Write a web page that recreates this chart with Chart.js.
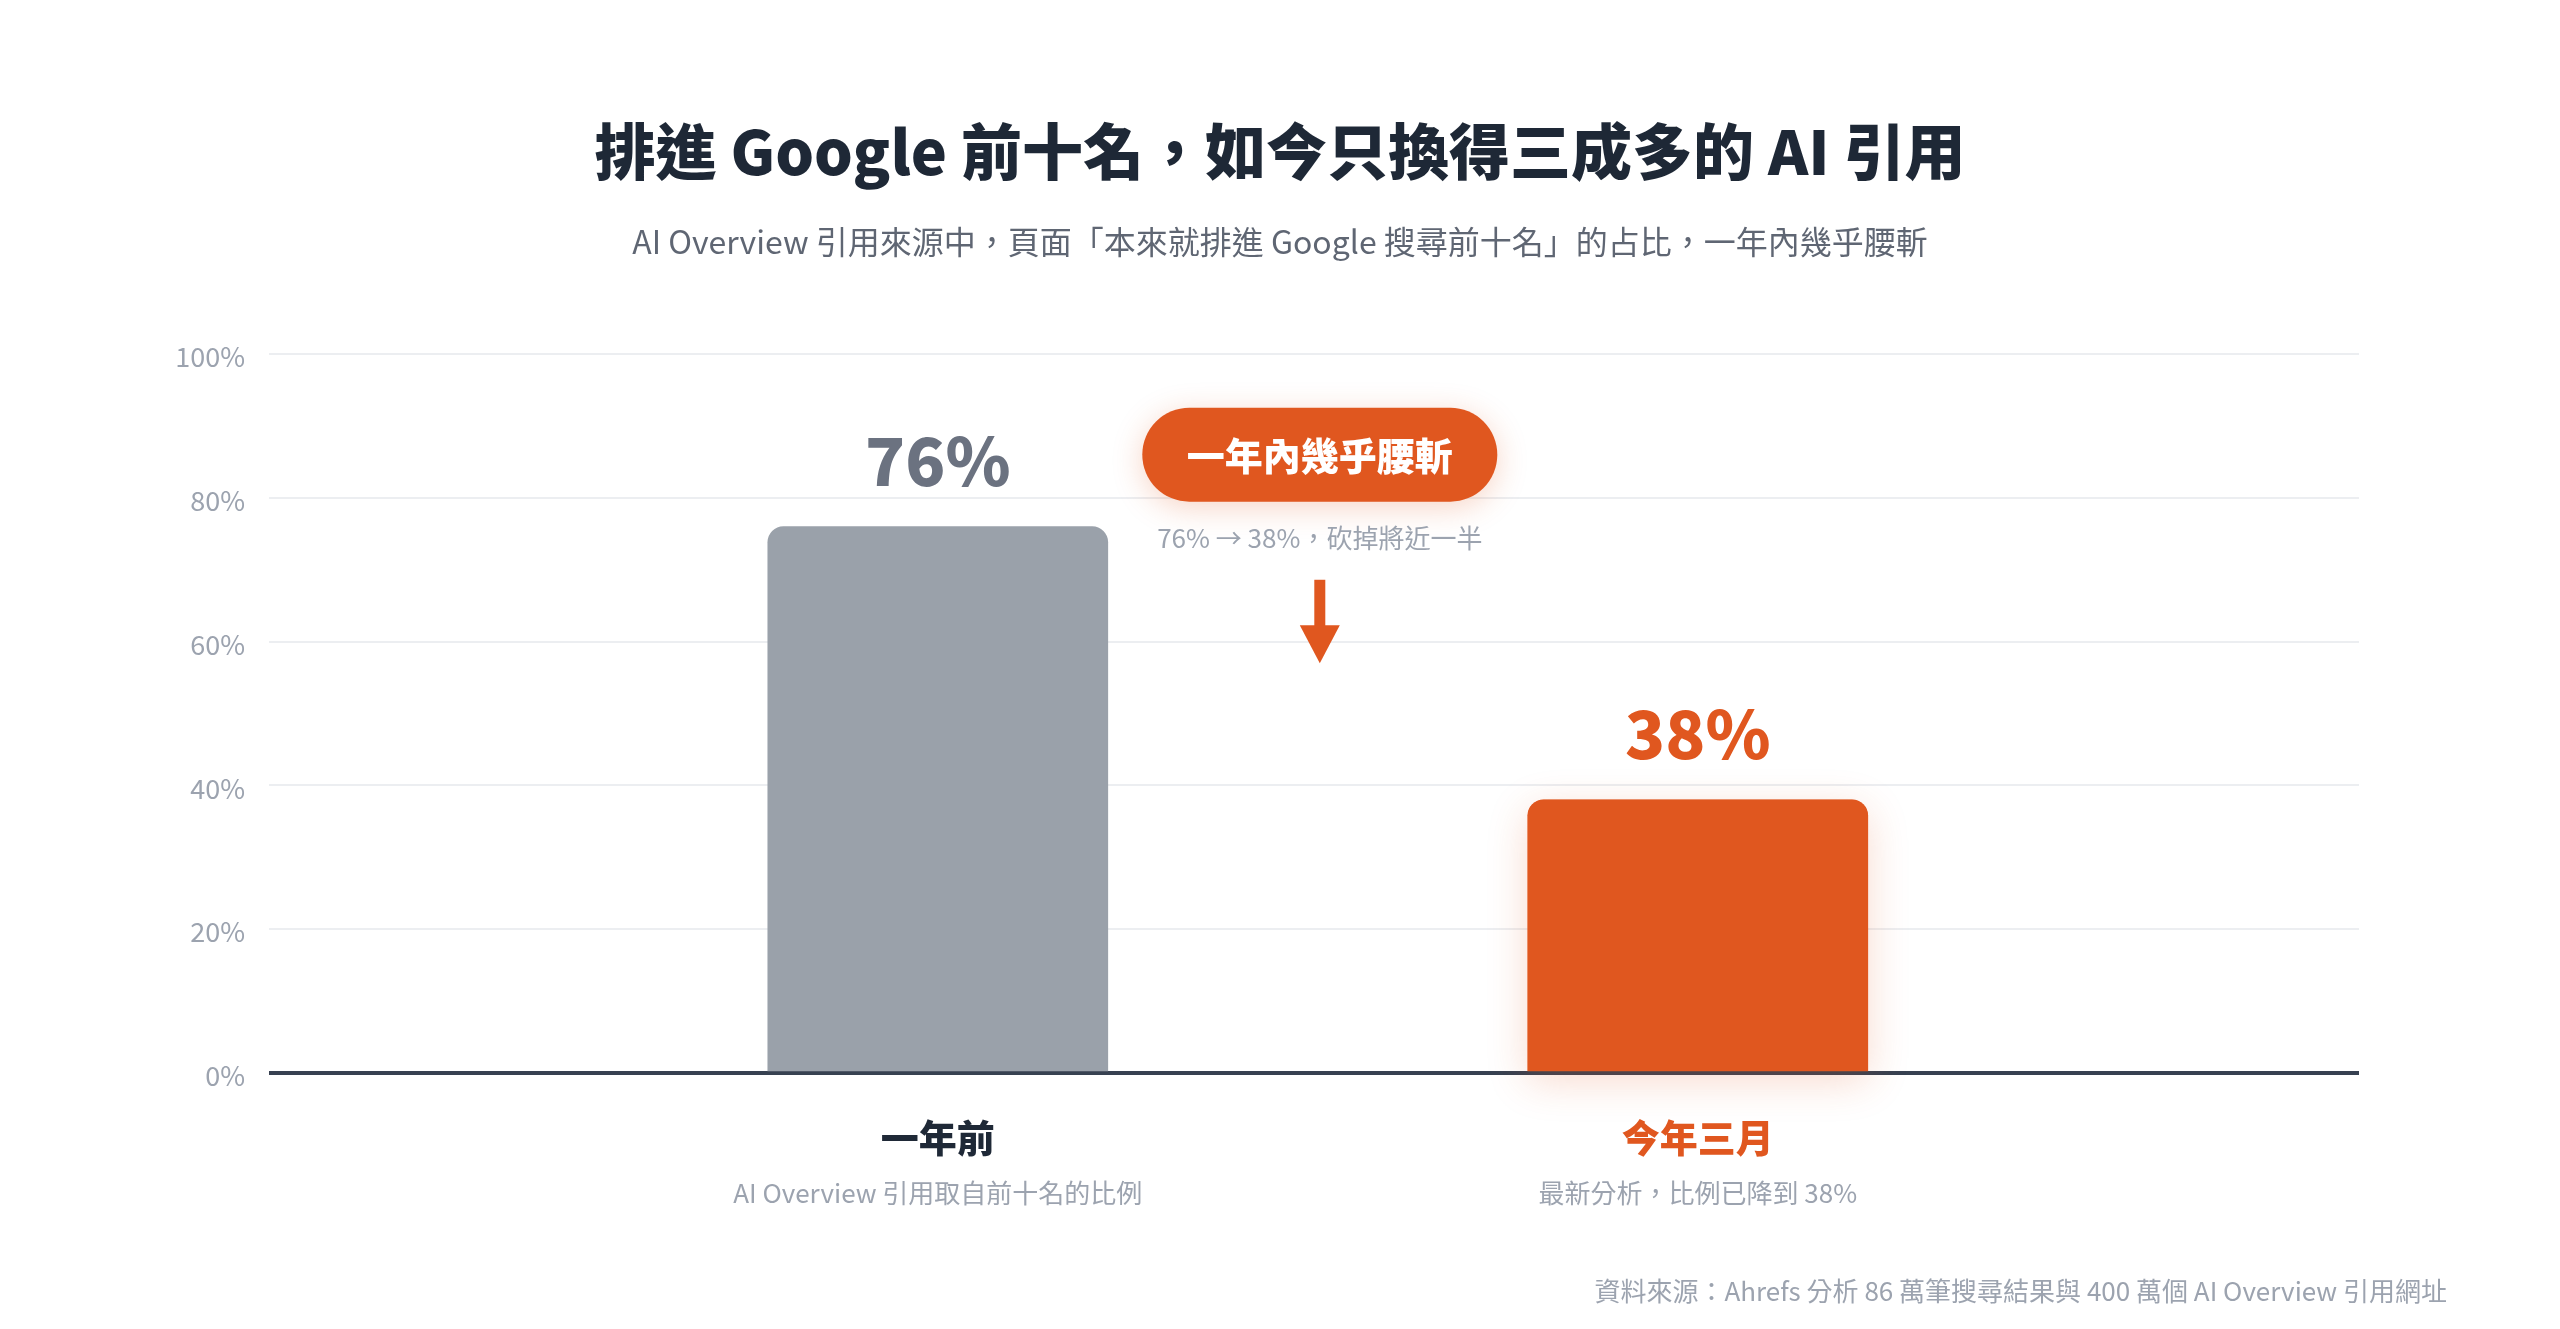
<!DOCTYPE html>
<html>
<head>
<meta charset="utf-8">
<script src="https://cdn.jsdelivr.net/npm/chart.js@4"></script>
<style>
  html, body { margin: 0; padding: 0; background: #ffffff; }
  #wrap { width: 2560px; height: 1329px; position: relative; }
</style>
</head>
<body>
<div id="wrap"><canvas id="myChart"></canvas></div>
<script>
// chart data
const categories = ["一年前", "今年三月"];
const categoryNotes = ["AI Overview 引用取自前十名的比例", "最新分析，比例已降到 38%"];
const values = [76, 38];
const yTicks = [0, 20, 40, 60, 80, 100];

const titleText = "排進 Google 前十名，如今只換得三成多的 AI 引用";
const subtitleText = "AI Overview 引用來源中，頁面「本來就排進 Google 搜尋前十名」的占比，一年內幾乎腰斬";
const calloutText = "一年內幾乎腰斬";
const calloutNote = "76% → 38%，砍掉將近一半";
const sourceText = "資料來源：Ahrefs 分析 86 萬筆搜尋結果與 400 萬個 AI Overview 引用網址";

const FONT = '"Noto Sans CJK TC", "Noto Sans", sans-serif';
const ORANGE = '#e0571f';
const GRAY_BAR = '#9aa1aa';
const DARK = '#1f2937';
const MUTED = '#9ca3af';
const barColors = [GRAY_BAR, ORANGE];
const valueColors = ['#6b7280', ORANGE];
const catColors = [DARK, ORANGE];

function roundRect(ctx, x, y, w, h, r) {
    ctx.beginPath();
    ctx.moveTo(x + r, y);
    ctx.lineTo(x + w - r, y);
    ctx.arcTo(x + w, y, x + w, y + r, r);
    ctx.lineTo(x + w, y + h);
    ctx.lineTo(x, y + h);
    ctx.lineTo(x, y + r);
    ctx.arcTo(x, y, x + r, y, r);
    ctx.closePath();
}

const decorations = {
    id: 'decorations',
    beforeDatasetsDraw(chart) {
        // soft glow under the orange bar
        const ctx = chart.ctx;
        const bar = chart.getDatasetMeta(0).data[1];
        const w = bar.width;
        ctx.save();
        ctx.shadowColor = 'rgba(224, 87, 31, 0.22)';
        ctx.shadowBlur = 40;
        ctx.shadowOffsetY = 10;
        ctx.fillStyle = ORANGE;
        roundRect(ctx, bar.x - w / 2, bar.y, w, bar.base - bar.y, 16);
        ctx.fill();
        ctx.restore();
    },
    afterDraw(chart) {
        const ctx = chart.ctx;
        const xs = chart.scales.x;
        const ys = chart.scales.y;
        const cx = chart.width / 2;
        ctx.save();
        ctx.textAlign = 'center';
        ctx.textBaseline = 'middle';

        // title + subtitle
        ctx.fillStyle = '#1e2836';
        ctx.font = '900 61px ' + FONT;
        ctx.fillText(titleText, cx, 152);
        ctx.fillStyle = '#5f6673';
        ctx.font = '32px ' + FONT;
        ctx.fillText(subtitleText, cx, 242);

        // value labels and category labels
        const meta = chart.getDatasetMeta(0);
        meta.data.forEach((bar, i) => {
            ctx.textBaseline = 'alphabetic';
            ctx.fillStyle = valueColors[i];
            ctx.font = '800 66px ' + FONT;
            ctx.fillText(values[i] + '%', bar.x, bar.y - 41);

            ctx.textBaseline = 'middle';
            ctx.fillStyle = catColors[i];
            ctx.font = '900 38px ' + FONT;
            ctx.fillText(categories[i], bar.x, 1138);
            ctx.fillStyle = MUTED;
            ctx.font = '26px ' + FONT;
            ctx.fillText(categoryNotes[i], bar.x, 1193);
        });

        // callout pill between the bars
        const px = xs.getPixelForValue(0.5) + 2;
        const py = ys.getPixelForValue(86);
        const pw = 355, ph = 94;
        ctx.save();
        ctx.shadowColor = 'rgba(224, 87, 31, 0.25)';
        ctx.shadowBlur = 30;
        ctx.shadowOffsetY = 6;
        ctx.fillStyle = ORANGE;
        ctx.beginPath();
        ctx.roundRect(px - pw / 2, py - ph / 2, pw, ph, ph / 2);
        ctx.fill();
        ctx.restore();
        ctx.fillStyle = '#ffffff';
        ctx.font = '900 38px ' + FONT;
        ctx.fillText(calloutText, px, py + 1);

        ctx.fillStyle = MUTED;
        ctx.font = '26px ' + FONT;
        ctx.fillText(calloutNote, px, ys.getPixelForValue(74.4));

        // down arrow
        const aTop = ys.getPixelForValue(68.6);
        const aBot = ys.getPixelForValue(57);
        ctx.fillStyle = ORANGE;
        ctx.fillRect(px - 5.5, aTop, 11, (aBot - aTop) - 36);
        ctx.beginPath();
        ctx.moveTo(px - 20, aBot - 38);
        ctx.lineTo(px + 20, aBot - 38);
        ctx.lineTo(px, aBot);
        ctx.closePath();
        ctx.fill();

        // source
        ctx.textAlign = 'right';
        ctx.fillStyle = MUTED;
        ctx.font = '26px ' + FONT;
        ctx.fillText(sourceText, 2447, 1291);
        ctx.restore();
    }
};

const ctx = document.getElementById('myChart').getContext('2d');
const myChart = new Chart(ctx, {
    type: 'bar',
    data: {
        datasets: [{
            data: values.map((v, i) => ({ x: i, y: v })),
            backgroundColor: barColors,
            borderRadius: { topLeft: 16, topRight: 16, bottomLeft: 0, bottomRight: 0 },
            borderSkipped: 'start',
            barThickness: 340
        }]
    },
    options: {
        responsive: true,
        maintainAspectRatio: false,
        animation: false,
        layout: { padding: { top: 354, right: 201, bottom: 256, left: 0 } },
        plugins: {
            legend: { display: false },
            tooltip: { enabled: false }
        },
        scales: {
            x: {
                type: 'linear',
                offset: false,
                min: -0.88,
                max: 1.87,
                display: false
            },
            y: {
                min: 0,
                max: 100,
                afterFit: (scale) => { scale.width = 269; },
                afterBuildTicks: (scale) => { scale.ticks = yTicks.map(v => ({ value: v })); },
                border: { display: false },
                grid: {
                    drawTicks: false,
                    color: (c) => c.tick && c.tick.value === 0 ? '#374151' : '#eceef1',
                    lineWidth: (c) => c.tick && c.tick.value === 0 ? 4 : 2
                },
                ticks: {
                    padding: 24,
                    labelOffset: 3,
                    color: MUTED,
                    font: { family: FONT, size: 27 },
                    callback: (v) => v + '%'
                }
            }
        }
    },
    plugins: [decorations]
});
</script>
</body>
</html>
